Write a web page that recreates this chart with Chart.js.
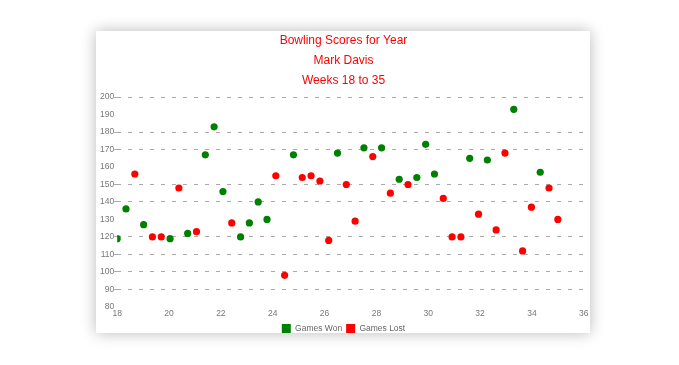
<!DOCTYPE html>
<html>
<head>
<meta charset="utf-8">
<script src="https://cdn.jsdelivr.net/npm/chart.js@4.4.1/dist/chart.umd.min.js"></script>
<style>
  html, body { margin: 0; padding: 0; background: #fff; }
  .card {
    position: absolute;
    left: 96px;
    top: 31px;
    width: 494px;
    height: 302px;
    overflow: hidden;
    background: #fff;
    box-shadow: 0 0 14px rgba(0, 0, 0, 0.28);
  }
</style>
</head>
<body>
<div class="card"><canvas id="chart" width="494" height="312"></canvas></div>
<script>
// Data (3 games a week, weeks 18 to 35)
const weeks = [18, 18.34, 18.68, 19.02, 19.36, 19.7, 20.04, 20.38, 20.72, 21.06,
  21.4, 21.74, 22.08, 22.42, 22.76, 23.1, 23.44, 23.78, 24.12, 24.46,
  24.8, 25.14, 25.48, 25.82, 26.16, 26.5, 26.84, 27.18, 27.52, 27.86,
  28.2, 28.54, 28.88, 29.22, 29.56, 29.9, 30.24, 30.58, 30.92, 31.26,
  31.6, 31.94, 32.28, 32.62, 32.96, 33.3, 33.64, 33.98, 34.32, 34.66, 35];

const wonScores = [119, 136, null, 127, null, null, 119, null, 122, null,
  167, 183, 146, null, 120, 128, 140, 130, null, null,
  167, null, null, null, null, 168, null, null, 171, null,
  171, null, 153, null, 154, 173, 156, null, null, null,
  165, null, 164, null, null, 193, null, null, 157, null, null];

const lostScores = [null, null, 156, null, 120, 120, null, 148, null, 123,
  null, null, null, 128, null, null, null, null, 155, 98,
  null, 154, 155, 152, 118, null, 150, 129, null, 166,
  null, 145, null, 150, null, null, null, 142, 120, 120,
  null, 133, null, 124, 168, null, 112, 137, null, 148, 130];

const titleLines = ["Bowling Scores for Year", "Mark Davis", "Weeks 18 to 35"];
const hiddenGrid = [190, 160, 130, 80];

const toPoints = (scores) =>
  weeks.map((w, i) => ({ x: w, y: scores[i] })).filter((p) => p.y !== null);

const gridColor = (ctx) =>
  hiddenGrid.includes(ctx.tick && ctx.tick.value) ? "rgba(0,0,0,0)" : "#aaaaaa";

const fontFamily = "'Liberation Sans', Arial, sans-serif";

const data = {
  datasets: [
    {
      label: "Games Won",
      data: toPoints(wonScores),
      backgroundColor: "#008000",
      borderColor: "#008000",
      pointRadius: 3.6,
      borderWidth: 0,
    },
    {
      label: "Games Lost",
      data: toPoints(lostScores),
      backgroundColor: "#ff0000",
      borderColor: "#ff0000",
      pointRadius: 3.6,
      borderWidth: 0,
    },
  ],
};

const config = {
  type: "scatter",
  data: data,
  options: {
    responsive: false,
    animation: false,
    layout: { padding: { left: 4, right: 3, top: 0, bottom: 0 } },
    plugins: {
      title: {
        display: true,
        text: titleLines,
        color: "#ff0000",
        font: { family: fontFamily, size: 12, weight: "normal", lineHeight: 1.67 },
        padding: { top: 0, bottom: 6 },
      },
      legend: {
        position: "bottom",
        labels: {
          boxWidth: 9,
          boxHeight: 9,
          padding: 4,
          color: "#666",
          font: { family: fontFamily, size: 8.5 },
        },
      },
      tooltip: { enabled: false },
    },
    scales: {
      x: {
        type: "linear",
        min: 18,
        max: 36,
        ticks: {
          stepSize: 2,
          padding: 1.5,
          color: "#777",
          font: { family: fontFamily, size: 8.5 },
        },
        grid: { display: false, drawTicks: false },
        border: { display: false },
      },
      y: {
        min: 80,
        max: 200,
        ticks: {
          stepSize: 10,
          padding: 0,
          color: "#777",
          font: { family: fontFamily, size: 8.5 },
        },
        grid: {
          color: gridColor,
          tickColor: gridColor,
          tickLength: 3,
          tickBorderDash: [],
        },
        border: { display: false, dash: [4, 7] },
      },
    },
  },
};

const myChart = new Chart(document.querySelector("#chart"), config);
</script>
</body>
</html>
